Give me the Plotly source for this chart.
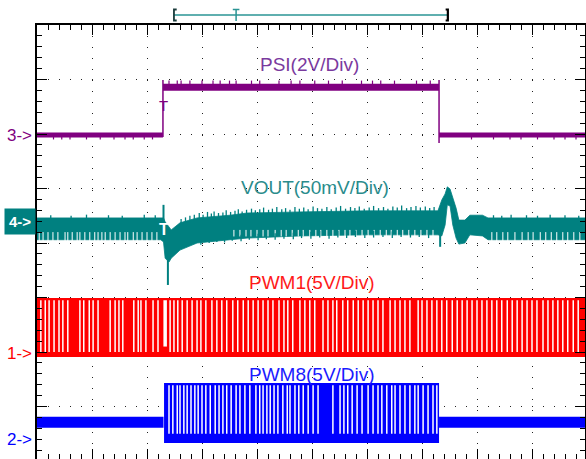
import plotly.graph_objects as go

# ---------------- data (screen divisions: x = time div, y = div from bottom) ----------------
# PSI (2V/Div)
psi_seg_t = [0.0, 2.29, 7.31, 10.0]
psi_level = [5.98, 6.86, 5.98]
psi_band_w = [5, 7, 5]
psi_edge_t = [2.29, 7.31]
psi_edge_from = [5.945, 6.99]
psi_edge_to = [6.99, 5.835]
psi_hi_spikes = [2.40, 2.55, 2.62, 2.78, 3.00, 3.20, 3.33, 3.50, 3.62, 3.90, 4.05, 4.40,
                 4.62, 4.78, 5.05, 5.30, 5.55, 5.90, 6.10, 6.25, 6.50, 6.90, 7.15]
psi_hi_spike_tip = 6.98
psi_lo_spikes = [0.30, 0.45, 0.60, 0.90, 1.15, 1.40, 1.60, 1.75, 1.95, 2.10,
                 7.90, 8.30, 8.60, 8.80, 9.10, 9.40, 9.60, 9.80]
psi_lo_spike_tip = 5.90

# VOUT (50mV/Div) noise envelope
vout_t = [0.00, 2.25, 2.30, 2.33, 2.40, 2.44, 2.60, 2.91, 3.51, 3.82, 4.78, 6.00, 7.29,
          7.36, 7.42, 7.46, 7.51, 7.56, 7.62, 7.67, 7.78, 7.87, 8.10, 8.20, 10.0]
vout_hi = [4.46, 4.46, 4.46, 4.39, 4.28, 4.24, 4.37, 4.46, 4.51, 4.55, 4.57, 4.59, 4.59,
           4.79, 4.90, 5.03, 4.99, 4.84, 4.64, 4.42, 4.42, 4.51, 4.51, 4.46, 4.46]
vout_lo = [4.06, 4.06, 4.02, 3.72, 3.65, 3.72, 3.87, 4.00, 4.06, 4.09, 4.13, 4.15, 4.15,
           4.13, 4.33, 4.70, 4.68, 4.33, 4.09, 3.98, 4.00, 4.15, 4.13, 4.06, 4.06]
vout_spike_t = [2.30, 2.38, 7.33]
vout_spike_from = [4.40, 3.70, 4.15]
vout_spike_to = [4.70, 3.23, 3.93]
# upward noise spikes (time, tip level)
vout_up_t = [0.25, 0.62, 0.90, 1.30, 1.55, 1.95, 2.15,
             2.62, 2.70, 2.78, 2.86, 2.95, 3.02, 3.10, 3.17, 3.22, 3.30, 3.38, 3.44, 3.52,
             3.60, 3.66, 3.73, 3.81, 3.90, 3.97, 4.05, 4.12, 4.21, 4.28, 4.36, 4.45, 4.52,
             4.60, 4.69, 4.77, 4.85, 4.93, 5.02, 5.10, 5.18, 5.27, 5.35, 5.44, 5.52, 5.61,
             5.70, 5.78, 5.86, 5.95, 6.04, 6.12, 6.21, 6.30, 6.38, 6.47, 6.55, 6.63, 6.72,
             6.80, 6.89, 6.97, 7.06, 7.14, 7.22,
             8.30, 8.45, 8.62, 8.90, 9.10, 9.33, 9.60, 9.85]
vout_up_tip = [4.51, 4.50, 4.52, 4.51, 4.50, 4.52, 4.51,
               4.44, 4.47, 4.50, 4.52, 4.55, 4.52, 4.57, 4.54, 4.58, 4.55, 4.56, 4.60, 4.57,
               4.59, 4.62, 4.58, 4.61, 4.63, 4.60, 4.62, 4.65, 4.61, 4.63, 4.66, 4.62, 4.64,
               4.61, 4.66, 4.63, 4.65, 4.62, 4.67, 4.64, 4.63, 4.66, 4.62, 4.65, 4.68, 4.63,
               4.66, 4.64, 4.67, 4.63, 4.65, 4.68, 4.64, 4.66, 4.63, 4.67, 4.65, 4.69, 4.64,
               4.66, 4.68, 4.65, 4.67, 4.64, 4.66,
               4.51, 4.50, 4.52, 4.51, 4.50, 4.52, 4.51, 4.50]
# downward noise spikes in the settled part (time, tip level)
vout_dn_t = [2.98, 3.13, 3.27, 3.41, 3.55, 3.71, 3.86, 4.02, 4.17, 4.33, 4.49, 4.66, 4.81,
             4.98, 5.14, 5.31, 5.47, 5.63, 5.79, 5.96, 6.12, 6.29, 6.46, 6.62, 6.79, 6.95, 7.12]
vout_dn_tip = [3.97, 4.00, 4.02, 4.01, 4.04, 4.03, 4.06, 4.05, 4.07, 4.06, 4.08, 4.07, 4.09,
               4.08, 4.10, 4.08, 4.10, 4.09, 4.11, 4.09, 4.10, 4.11, 4.09, 4.11, 4.10, 4.11, 4.09]
vout_gap_pre = [0.04, 0.11, 0.20, 0.29, 0.38, 0.51, 0.56, 0.64, 0.73, 0.78, 0.87, 0.96, 1.05,
                1.11, 1.18, 1.24, 1.33, 1.42, 1.51, 1.60, 1.65, 1.75, 1.82, 1.91, 2.00, 2.09, 2.18]
vout_gap_mid = [3.58, 3.69, 3.80, 3.89, 4.00, 4.11, 4.20, 4.33,
                4.44, 4.53, 4.64, 4.75, 4.84, 4.96, 5.07, 5.16, 5.27, 5.38, 5.49, 5.60, 5.69,
                5.80, 5.91, 6.02, 6.13, 6.24, 6.35, 6.44, 6.55, 6.65, 6.76, 6.87, 6.98, 7.09, 7.20]
vout_gap_post = [8.27, 8.36, 8.47, 8.56, 8.69, 8.82, 8.93, 9.02, 9.15, 9.25, 9.35, 9.45,
                 9.56, 9.65, 9.76, 9.87]
vout_gap_range = {"pre": (4.03, 4.20), "mid": (4.12, 4.24), "post": (4.03, 4.20)}

# PWM1 (5V/Div)
pwm1_span = [0.0, 10.0]
pwm1_high, pwm1_low = 2.99, 1.91
pwm1_gap_top, pwm1_gap_bottom = 2.95, 2.00
pwm1_gaps = [0.07, 0.15, 0.22, 0.31, 0.40, 0.47, 0.56, 0.78, 0.85, 0.95, 1.02, 1.11, 1.33,
             1.42, 1.49, 1.56, 1.76, 1.84, 1.89, 1.98, 2.11, 2.20, 2.42, 2.49, 2.56, 2.64,
             2.73, 2.82, 2.91, 2.98, 3.07, 3.18, 3.27, 3.36, 3.45, 3.56, 3.65, 3.75, 3.84,
             3.93, 4.02, 4.11, 4.20, 4.29, 4.40, 4.49, 4.56, 4.65, 4.78, 4.87, 4.96, 5.05,
             5.20, 5.29, 5.38, 5.45, 5.56, 5.65, 5.75, 5.84, 5.93, 6.02, 6.11, 6.20, 6.29,
             6.42, 6.51, 6.60, 6.69, 6.78, 6.93, 7.00, 7.09, 7.18, 7.27, 7.36, 7.45, 7.55,
             7.64, 7.73, 7.82, 7.91, 8.00, 8.09, 8.18, 8.27, 8.36, 8.45, 8.55, 8.64, 8.73,
             8.82, 8.91, 9.00, 9.09, 9.20, 9.29, 9.38, 9.47, 9.56, 9.65, 9.75, 9.84]
pwm1_trig_gap = 2.33

# PWM8 (5V/Div)
pwm8_idle_spans = [(0.0, 2.30), (7.31, 10.0)]
pwm8_idle_top, pwm8_idle_bottom = 0.81, 0.61
pwm8_sw_span = [2.31, 7.31]
pwm8_high, pwm8_low = 1.43, 0.33
pwm8_gap_top, pwm8_gap_bottom = 1.39, 0.50
pwm8_gaps = [2.40, 2.47, 2.55, 2.60, 2.67, 2.73, 2.80, 2.87, 2.93, 3.00, 3.07, 3.15, 3.24,
             3.31, 3.38, 3.45, 3.53, 3.62, 3.69, 3.78, 3.87, 3.98, 4.05, 4.11, 4.18, 4.24,
             4.31, 4.38, 4.47, 4.55, 4.60, 4.69, 4.76, 4.84, 4.93, 5.02, 5.11, 5.38, 5.51,
             5.58, 5.65, 5.73, 5.82, 5.91, 6.02, 6.11, 6.20, 6.27, 6.36, 6.45, 6.51, 6.60,
             6.69, 6.78, 6.87, 6.93, 7.02, 7.11, 7.20, 7.27]

# channel markers / labels
ch_markers = [("3->", 5.98, "#800080"), ("1->", 1.97, "#FF0000"), ("2->", 0.39, "#0000FF")]
ch4_marker_y = 4.39
ch_labels = [("PSI(2V/Div)", 4.96, 7.27, "#7A3A9E"),
             ("VOUT(50mV/Div)", 5.05, 5.01, "#2A8C8C"),
             ("PWM1(5V/Div)", 5.00, 3.27, "#FF1A1A"),
             ("PWM8(5V/Div)", 5.00, 1.58, "#1A1AFF")]
trig_t = 2.30
win_start, win_end, win_trig = 2.49, 7.47, 3.62

# ---------------- layout constants ----------------
W, H = 586, 459
ML, MT = 37, 25
PX_PER_DIV_X, PX_PER_DIV_Y = 55.0, 54.5
PLOT_W, PLOT_H = W - ML - 1, H - MT
XR = [0, PLOT_W / PX_PER_DIV_X]
YR = [8 - PLOT_H / PX_PER_DIV_Y, 8]

PURPLE, TEAL, RED, BLUE = "#800080", "#008080", "#FF0000", "#0000FF"

fig = go.Figure()


def rect(x0, x1, y0, y1, color):
    fig.add_trace(go.Scatter(x=[x0, x1, x1, x0, x0], y=[y0, y0, y1, y1, y0], mode="lines",
                             fill="toself", fillcolor=color, line=dict(width=0, color=color),
                             hoverinfo="skip"))


def vlines(xs, y0s, y1s, color, width):
    xx, yy = [], []
    for x, a, b in zip(xs, y0s, y1s):
        xx += [x, x, None]
        yy += [a, b, None]
    fig.add_trace(go.Scatter(x=xx, y=yy, mode="lines", line=dict(color=color, width=width),
                             hoverinfo="skip"))


# PSI
for i in range(3):
    fig.add_trace(go.Scatter(x=[psi_seg_t[i], psi_seg_t[i + 1]], y=[psi_level[i]] * 2,
                             mode="lines", line=dict(color=PURPLE, width=psi_band_w[i]),
                             hoverinfo="skip"))
vlines(psi_edge_t, psi_edge_from, psi_edge_to, PURPLE, 1.5)
vlines(psi_hi_spikes, [psi_level[1]] * len(psi_hi_spikes),
       [psi_hi_spike_tip] * len(psi_hi_spikes), PURPLE, 1.2)
vlines(psi_lo_spikes, [psi_level[0]] * len(psi_lo_spikes),
       [psi_lo_spike_tip] * len(psi_lo_spikes), PURPLE, 1.2)

# VOUT
fig.add_trace(go.Scatter(x=vout_t + vout_t[::-1], y=vout_hi + vout_lo[::-1], mode="lines",
                         fill="toself", fillcolor=TEAL, line=dict(width=0.8, color=TEAL),
                         hoverinfo="skip"))
for key, gaps in (("pre", vout_gap_pre), ("mid", vout_gap_mid), ("post", vout_gap_post)):
    lo, hi = vout_gap_range[key]
    vlines(gaps, [lo] * len(gaps), [hi] * len(gaps), "white", 1.0)
vlines(vout_up_t, [v - 0.12 for v in vout_up_tip], vout_up_tip, TEAL, 1.3)
vlines(vout_dn_t, vout_dn_tip, [v + 0.12 for v in vout_dn_tip], TEAL, 1.3)
vlines(vout_spike_t, vout_spike_from, vout_spike_to, TEAL, 2)

# PWM1
rect(pwm1_span[0], pwm1_span[1], pwm1_low, pwm1_high, RED)
vlines(pwm1_gaps, [pwm1_gap_bottom] * len(pwm1_gaps), [pwm1_gap_top] * len(pwm1_gaps), "white", 1.5)
vlines([pwm1_trig_gap], [pwm1_gap_bottom + 0.1], [pwm1_gap_top], "white", 3.5)

# PWM8
for a, b in pwm8_idle_spans:
    rect(a, b, pwm8_idle_bottom, pwm8_idle_top, BLUE)
rect(pwm8_sw_span[0], pwm8_sw_span[1], pwm8_low, pwm8_high, BLUE)
vlines(pwm8_gaps, [pwm8_gap_bottom] * len(pwm8_gaps), [pwm8_gap_top] * len(pwm8_gaps), "white", 1.5)

FONT = "Liberation Sans, Arial, sans-serif"
ann = []
for txt, x, y, c in ch_labels:
    ann.append(dict(x=x, y=y, xref="x", yref="y", text=txt, showarrow=False,
                    font=dict(family=FONT, size=19, color=c)))
for txt, y, c in ch_markers:
    ann.append(dict(x=0, y=y, xref="paper", yref="y", text=txt, showarrow=False,
                    xanchor="right", xshift=-3, font=dict(family=FONT, size=17, color=c)))
ann.append(dict(x=0, y=ch4_marker_y, xref="paper", yref="y", text="<b>4-></b>", showarrow=False,
                xanchor="right", xshift=-1, bgcolor=TEAL, borderpad=4,
                font=dict(family=FONT, size=15, color="white")))
ann.append(dict(x=trig_t, y=6.53, xref="x", yref="y", text="T", showarrow=False,
                font=dict(family=FONT, size=15, color=PURPLE)))
ann.append(dict(x=trig_t, y=4.25, xref="x", yref="y", text="<b>T</b>", showarrow=False,
                font=dict(family=FONT, size=16, color="white")))


def py2paper(py):
    return (H - py) / PLOT_H


shapes = [
    dict(type="line", xref="x", yref="paper", x0=win_start, x1=win_end,
         y0=py2paper(15), y1=py2paper(15), line=dict(color="#2A9494", width=1.5)),
    dict(type="path", xref="x", yref="paper",
         path=f"M {win_start + 0.05},{py2paper(9.5)} L {win_start},{py2paper(9.5)} "
              f"L {win_start},{py2paper(20.5)} L {win_start + 0.05},{py2paper(20.5)}",
         line=dict(color="#1b3b3b", width=1.8)),
    dict(type="path", xref="x", yref="paper",
         path=f"M {win_end - 0.04},{py2paper(9.5)} L {win_end},{py2paper(9.5)} "
              f"L {win_end},{py2paper(20.5)} L {win_end - 0.04},{py2paper(20.5)}",
         line=dict(color="black", width=2.2)),
    dict(type="path", xref="x", yref="paper",
         path=f"M {win_trig - 0.06},{py2paper(9.5)} L {win_trig + 0.06},{py2paper(9.5)} "
              f"M {win_trig},{py2paper(9.5)} L {win_trig},{py2paper(21)}",
         line=dict(color="#2A9494", width=1.5)),
]

axis_common = dict(showgrid=True, griddash="1px,10px", gridcolor="#222", gridwidth=1.4,
                   dtick=1, tick0=0, ticks="inside", ticklen=10, tickwidth=1.4, tickcolor="black",
                   minor=dict(dtick=0.2, ticks="inside", ticklen=5, tickwidth=1.2,
                              tickcolor="black", showgrid=False),
                   showline=True, linewidth=2, linecolor="black", mirror="ticks",
                   showticklabels=False, zeroline=False, fixedrange=True)

fig.update_layout(width=W, height=H, margin=dict(l=ML, r=1, t=MT, b=0, pad=0, autoexpand=False),
                  plot_bgcolor="white", paper_bgcolor="white", showlegend=False,
                  xaxis=dict(range=XR, **axis_common), yaxis=dict(range=YR, **axis_common),
                  annotations=ann, shapes=shapes)

fig.write_html("out.html", config={"displayModeBar": False},
               post_script="document.body.style.margin='0';document.body.style.overflow='hidden';")
